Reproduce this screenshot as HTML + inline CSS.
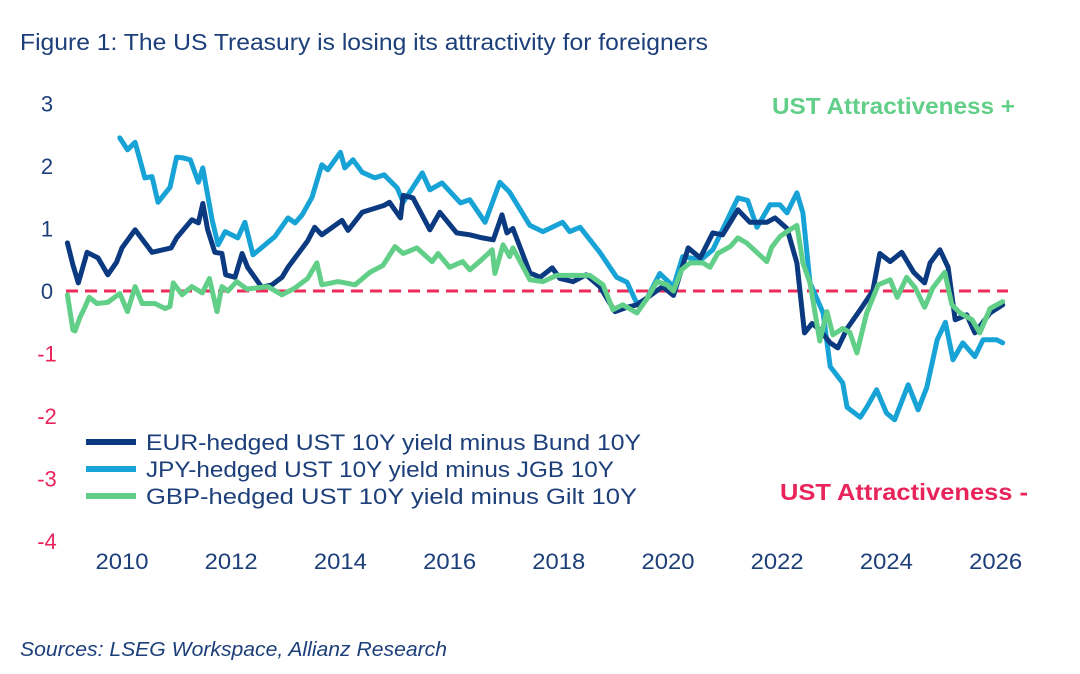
<!DOCTYPE html>
<html><head><meta charset="utf-8"><style>
body{margin:0;width:1080px;height:674px;background:#fff;overflow:hidden;font-family:"Liberation Sans",sans-serif}
svg{position:absolute;left:0;top:0}
</style></head><body>
<svg id="chart" width="1080" height="674"></svg>
<script>
const yTicks=[3,2,1,0,-1,-2,-3,-4];
const xTicks=[2010,2012,2014,2016,2018,2020,2022,2024,2026];
const eurYears=[2009.0,2009.1,2009.2,2009.36,2009.56,2009.74,2009.9,2010.0,2010.24,2010.55,2010.9,2011.0,2011.28,2011.4,2011.48,2011.57,2011.7,2011.83,2011.9,2012.07,2012.2,2012.3,2012.56,2012.75,2012.93,2013.04,2013.4,2013.53,2013.66,2014.03,2014.14,2014.4,2014.8,2014.9,2015.1,2015.15,2015.33,2015.64,2015.82,2016.13,2016.37,2016.6,2016.8,2016.96,2017.05,2017.16,2017.47,2017.66,2017.88,2018.02,2018.26,2018.5,2018.75,2019.03,2019.25,2019.43,2019.6,2019.9,2020.1,2020.37,2020.59,2020.82,2021.0,2021.28,2021.5,2021.81,2021.96,2022.18,2022.36,2022.5,2022.64,2022.78,2022.97,2023.11,2023.28,2023.52,2023.75,2023.88,2024.07,2024.28,2024.5,2024.7,2024.8,2024.98,2025.13,2025.26,2025.47,2025.62,2025.9,2026.13];
const eurValues=[0.77,0.42,0.13,0.62,0.53,0.26,0.46,0.69,0.98,0.62,0.69,0.85,1.14,1.09,1.4,0.98,0.62,0.6,0.26,0.22,0.6,0.38,0.06,0.1,0.22,0.38,0.8,1.02,0.9,1.13,0.97,1.26,1.37,1.42,1.17,1.53,1.49,0.98,1.26,0.93,0.9,0.85,0.82,1.22,0.93,1.0,0.29,0.22,0.37,0.2,0.15,0.26,0.07,-0.33,-0.26,-0.22,-0.12,0.07,-0.07,0.69,0.53,0.93,0.9,1.3,1.1,1.1,1.17,1.0,0.45,-0.67,-0.52,-0.62,-0.83,-0.91,-0.6,-0.3,0.0,0.6,0.47,0.62,0.3,0.13,0.45,0.66,0.38,-0.46,-0.38,-0.67,-0.35,-0.22];
const jpyYears=[2009.96,2010.1,2010.24,2010.42,2010.55,2010.66,2010.88,2011.0,2011.12,2011.25,2011.4,2011.48,2011.65,2011.76,2011.89,2012.12,2012.25,2012.4,2012.8,2013.04,2013.17,2013.3,2013.48,2013.66,2013.77,2014.0,2014.08,2014.23,2014.4,2014.63,2014.8,2015.04,2015.15,2015.5,2015.64,2015.86,2016.2,2016.37,2016.65,2016.92,2017.1,2017.47,2017.71,2018.07,2018.2,2018.39,2018.75,2019.06,2019.25,2019.43,2019.6,2019.85,2020.1,2020.27,2020.6,2020.82,2021.28,2021.46,2021.63,2021.87,2022.05,2022.18,2022.36,2022.47,2022.6,2022.84,2022.97,2023.06,2023.2,2023.28,2023.52,2023.64,2023.82,2024.0,2024.15,2024.4,2024.58,2024.74,2024.93,2025.08,2025.22,2025.4,2025.62,2025.77,2026.02,2026.13];
const jpyValues=[2.45,2.26,2.38,1.81,1.83,1.42,1.66,2.14,2.13,2.1,1.74,1.97,1.14,0.74,0.95,0.85,1.1,0.58,0.87,1.17,1.09,1.22,1.5,2.02,1.94,2.22,1.97,2.1,1.9,1.81,1.86,1.65,1.42,1.89,1.62,1.73,1.41,1.46,1.1,1.74,1.58,1.05,0.95,1.1,0.95,1.02,0.62,0.22,0.14,-0.2,-0.14,0.28,0.07,0.55,0.5,0.66,1.49,1.45,1.02,1.38,1.38,1.25,1.57,1.25,0.13,-0.35,-1.21,-1.31,-1.47,-1.86,-2.02,-1.86,-1.58,-1.95,-2.06,-1.5,-1.9,-1.54,-0.78,-0.5,-1.1,-0.83,-1.05,-0.78,-0.78,-0.83];
const gbpYears=[2009.0,2009.1,2009.14,2009.23,2009.32,2009.4,2009.54,2009.74,2009.96,2010.1,2010.24,2010.37,2010.6,2010.79,2010.88,2010.94,2011.1,2011.28,2011.47,2011.6,2011.74,2011.83,2011.94,2012.1,2012.29,2012.67,2012.93,2013.17,2013.4,2013.57,2013.66,2013.96,2014.27,2014.54,2014.78,2015.0,2015.15,2015.4,2015.68,2015.79,2016.0,2016.24,2016.37,2016.55,2016.78,2016.83,2016.98,2017.1,2017.16,2017.47,2017.71,2017.96,2018.33,2018.57,2018.81,2018.99,2019.17,2019.43,2019.6,2019.8,2019.98,2020.1,2020.25,2020.4,2020.64,2020.77,2020.91,2021.14,2021.28,2021.44,2021.81,2021.9,2022.05,2022.18,2022.36,2022.47,2022.6,2022.78,2022.91,2023.02,2023.2,2023.33,2023.46,2023.64,2023.85,2024.07,2024.2,2024.37,2024.53,2024.7,2024.85,2025.07,2025.2,2025.35,2025.57,2025.71,2025.9,2026.13];
const gbpValues=[-0.06,-0.62,-0.64,-0.42,-0.26,-0.1,-0.2,-0.18,-0.04,-0.33,0.07,-0.2,-0.2,-0.28,-0.25,0.13,-0.06,0.07,-0.03,0.2,-0.33,0.07,0.0,0.15,0.03,0.07,-0.06,0.05,0.2,0.45,0.1,0.15,0.1,0.3,0.41,0.71,0.6,0.69,0.47,0.6,0.38,0.47,0.34,0.47,0.66,0.28,0.74,0.55,0.69,0.18,0.15,0.25,0.25,0.25,0.1,-0.3,-0.22,-0.35,-0.14,0.15,0.1,0.0,0.34,0.45,0.45,0.38,0.6,0.71,0.85,0.77,0.47,0.7,0.87,0.95,1.05,0.45,0.13,-0.8,-0.33,-0.7,-0.6,-0.66,-0.99,-0.35,0.1,0.18,-0.1,0.22,0.05,-0.26,0.05,0.3,-0.22,-0.35,-0.46,-0.67,-0.28,-0.17];

const NS='http://www.w3.org/2000/svg';
const svg=document.getElementById('chart');
const X=y=>122+(y-2010)*54.6;
const Y=v=>291-v*62.5;
function el(tag,attrs,text){const e=document.createElementNS(NS,tag);for(const k in attrs)e.setAttribute(k,attrs[k]);if(text!==undefined)e.textContent=text;svg.appendChild(e);return e;}

const t=el('text',{x:20,y:50,'font-size':23,fill:'#1c3f7a',textLength:688,lengthAdjust:'spacingAndGlyphs'},'Figure 1:  The US Treasury is losing its attractivity for foreigners');



yTicks.forEach(v=>{
  const e=el('text',{x:47,y:Y(v)+8,'font-size':22,'text-anchor':'middle',fill:v<0?'#e8245a':'#1c3f7a'},String(v));
  
  
});
xTicks.forEach(yr=>{
  const e=el('text',{x:X(yr),y:569,'font-size':22,'text-anchor':'middle',fill:'#1c3f7a',textLength:53,lengthAdjust:'spacingAndGlyphs'},String(yr));
  
  
});

const zl=el('line',{x1:66,x2:1008,y1:Y(0),y2:Y(0),stroke:'#ee2a5a','stroke-width':3,'stroke-dasharray':'12,7'});



function series(years,vals,color,name){
  const d=years.map((y,i)=>(i?'L':'M')+X(y).toFixed(1)+','+Y(vals[i]).toFixed(1)).join('');
  const p=el('path',{d:d,fill:'none',stroke:color,'stroke-width':5,'stroke-linejoin':'round','stroke-linecap':'round'});
  
  
}
series(jpyYears,jpyValues,'#18a3d6','jpy-series-line');
series(eurYears,eurValues,'#0b3a80','eur-series-line');
series(gbpYears,gbpValues,'#62cf88','gbp-series-line');

const legend=[['#0b3a80','EUR-hedged UST 10Y yield minus Bund 10Y',495],['#18a3d6','JPY-hedged UST 10Y yield minus JGB 10Y',468],['#62cf88','GBP-hedged UST 10Y yield minus Gilt 10Y',491]];
legend.forEach((l,i)=>{
  const yy=442+i*27;
  const ln=el('line',{x1:86,x2:136,y1:yy,y2:yy,stroke:l[0],'stroke-width':6});
  
  
  const tx=el('text',{x:146,y:yy+8,'font-size':22,fill:'#1c3f7a',textLength:l[2],lengthAdjust:'spacingAndGlyphs'},l[1]);
  
  
});

const a1=el('text',{x:772,y:114,'font-size':23,'font-weight':'bold',fill:'#62cf88',textLength:243,lengthAdjust:'spacingAndGlyphs'},'UST Attractiveness +');


const a2=el('text',{x:780,y:500,'font-size':23,'font-weight':'bold',fill:'#e8245a',textLength:248,lengthAdjust:'spacingAndGlyphs'},'UST Attractiveness -');


const src=el('text',{x:20,y:656,'font-size':20,'font-style':'italic',fill:'#1c3f7a',textLength:427,lengthAdjust:'spacingAndGlyphs'},'Sources: LSEG Workspace, Allianz Research');


</script>
</body></html>
